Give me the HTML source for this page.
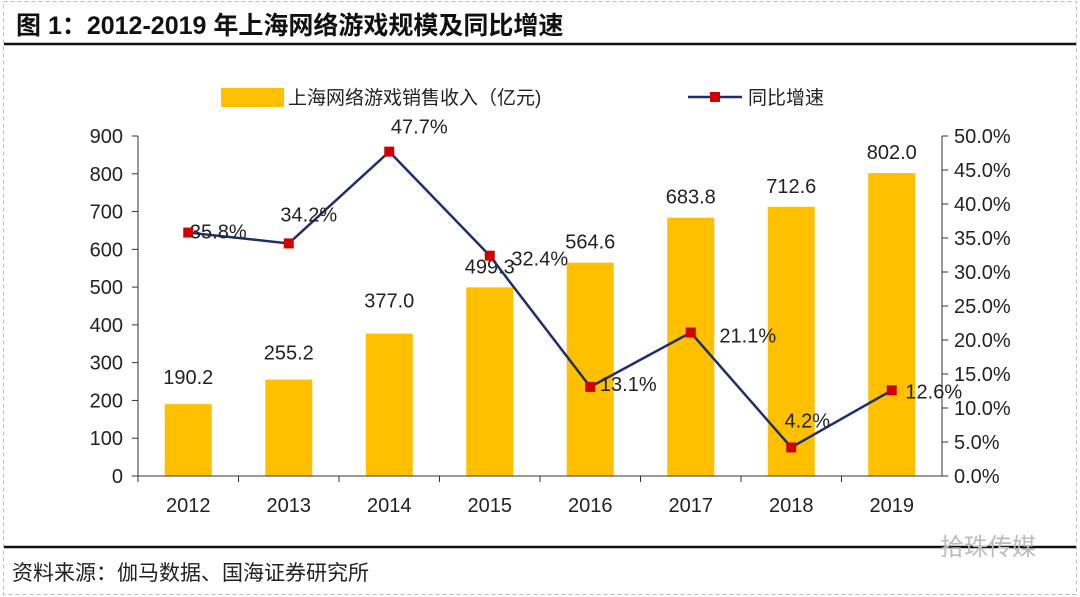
<!DOCTYPE html>
<html><head><meta charset="utf-8"><style>
body{margin:0;background:#fff}
svg{display:block;font-family:"Liberation Sans","Noto Sans CJK SC",sans-serif}
</style></head><body>
<svg width="1080" height="597" viewBox="0 0 1080 597">
<rect x="3.5" y="1.5" width="1073" height="593" fill="none" stroke="#bbb" stroke-dasharray="4,3"/>
<text x="16" y="34" font-size="25" font-weight="bold" fill="#111">图 1：2012-2019 年上海网络游戏规模及同比增速</text>
<line x1="4" y1="44" x2="1076" y2="44" stroke="#111" stroke-width="2.5"/>
<g>
<rect x="221" y="88" width="63" height="19" fill="#FFC000"/>
<text x="288" y="104" font-size="19" fill="#222">上海网络游戏销售收入（亿元)</text>
<line x1="688" y1="97" x2="742" y2="97" stroke="#1F2E6B" stroke-width="2.5"/>
<rect x="710" y="92" width="10" height="10" fill="#D00000"/>
<text x="748" y="104" font-size="19" fill="#222">同比增速</text>
</g>
<g id="plot"></g>
<line x1="4" y1="547" x2="1076" y2="547" stroke="#111" stroke-width="2.5"/>
<text x="12" y="580" font-size="21" fill="#222">资料来源：伽马数据、国海证券研究所</text>
<text x="940" y="555" font-size="24" fill="#bbb">拾珠传媒</text>
</svg>
<script>
const categories=["2012","2013","2014","2015","2016","2017","2018","2019"];
const revenue=[190.2,255.2,377.0,499.3,564.6,683.8,712.6,802.0];
const growth=[35.8,34.2,47.7,32.4,13.1,21.1,4.2,12.6];
const leftTicks=[0,100,200,300,400,500,600,700,800,900];
const rightTicks=[0,5,10,15,20,25,30,35,40,45,50];
const growthLabelDx=[8,-2,8,28,16,35,-6,20];
const growthLabelDy=[6,-22,-18,10,4,10,-20,8];
const revLabel=["190.2","255.2","377.0","499.3","564.6","683.8","712.6","802.0"];
const NS="http://www.w3.org/2000/svg";
const g=document.getElementById('plot');
const X0=138,X1=942,Y0=476,Y1=136;
const band=(X1-X0)/categories.length;
const xc=i=>X0+band*(i+0.5);
const yL=v=>Y0-(v/900)*(Y0-Y1);
const yR=v=>Y0-(v/50)*(Y0-Y1);
function mk(tag,a){const e=document.createElementNS(NS,tag);for(const k in a)e.setAttribute(k,a[k]);g.appendChild(e);return e;}
revenue.forEach((v,i)=>{
 const r=mk('rect',{x:xc(i)-23.5,y:yL(v),width:47,height:Y0-yL(v),fill:'#FFC000'});
 
 
 const t=mk('text',{x:xc(i),y:yL(v)-(i<2?20:i==2?26:14),'font-size':20,'text-anchor':'middle',fill:'#222'});
 t.textContent=revLabel[i];
 
 
});
const al=mk('line',{x1:X0,y1:Y1,x2:X0,y2:Y0,stroke:'#333'});


const ar=mk('line',{x1:X1,y1:Y1,x2:X1,y2:Y0,stroke:'#333'});


const ab=mk('line',{x1:X0,y1:Y0,x2:X1,y2:Y0,stroke:'#333'});


leftTicks.forEach(v=>{
 mk('line',{x1:X0-6,y1:yL(v),x2:X0,y2:yL(v),stroke:'#333'});
 const t=mk('text',{x:X0-15,y:yL(v)+7,'font-size':20,'text-anchor':'end',fill:'#222'});
 t.textContent=v;
 
 
});
rightTicks.forEach(v=>{
 mk('line',{x1:X1,y1:yR(v),x2:X1+6,y2:yR(v),stroke:'#333'});
 const t=mk('text',{x:X1+12,y:yR(v)+7,'font-size':20,fill:'#222'});
 t.textContent=v.toFixed(1)+'%';
 
 
});
categories.forEach((c,i)=>{
 mk('line',{x1:X0+band*i,y1:Y0,x2:X0+band*i,y2:Y0+6,stroke:'#333'});
 const t=mk('text',{x:xc(i),y:Y0+36,'font-size':20,'text-anchor':'middle',fill:'#222'});
 t.textContent=c;
 
 
});
const pl=mk('polyline',{points:growth.map((v,i)=>xc(i)+','+yR(v)).join(' '),fill:'none',stroke:'#1F2E6B','stroke-width':2.5});


growth.forEach((v,i)=>{
 const m=mk('rect',{x:xc(i)-5,y:yR(v)-5,width:10,height:10,fill:'#D00000'});
 
 
 const t=mk('text',{x:xc(i)+growthLabelDx[i]+22,y:yR(v)+growthLabelDy[i],'font-size':20,'text-anchor':'middle',fill:'#222'});
 t.textContent=v.toFixed(1)+'%';
 
 
});
</script>
</body></html>
